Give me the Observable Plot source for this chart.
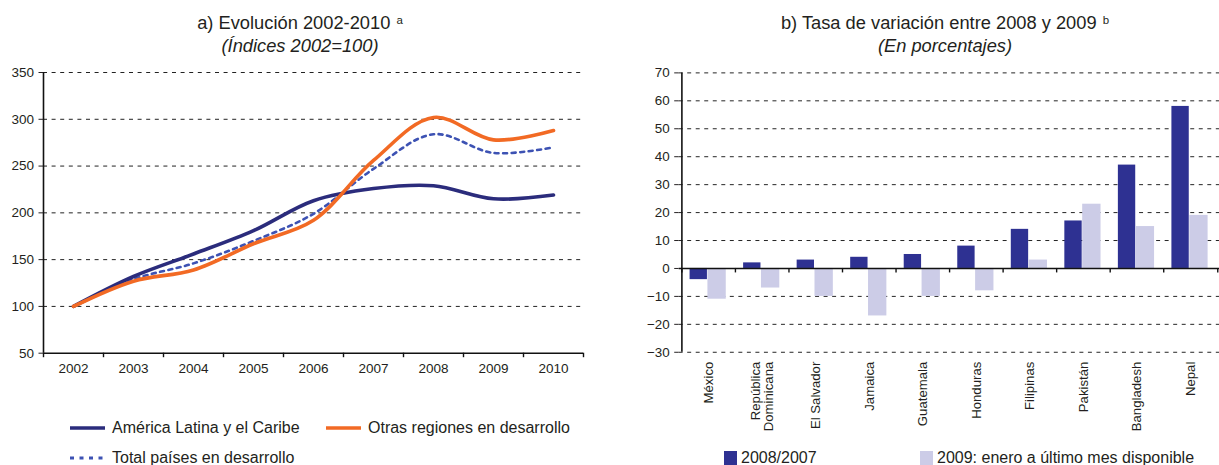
<!DOCTYPE html>
<html>
<head>
<meta charset="utf-8">
<script src="https://cdn.jsdelivr.net/npm/d3@7"></script>
<script src="https://cdn.jsdelivr.net/npm/@observablehq/plot@0.6"></script>
<style>
  body { margin:0; width:1219px; height:465px; overflow:hidden; position:relative; background:#fff;
         font-family:"Liberation Sans", Arial, Helvetica, sans-serif; color:#231f20; }
  .abs { position:absolute; }
  .title { font-size:18.3px; text-align:center; white-space:nowrap; line-height:23px; }
  .title i { display:block; }
  .title sup { font-size:11.5px; vertical-align:top; position:relative; top:-2px; margin-left:1px; }
  .leg { position:absolute; font-size:16px; white-space:nowrap; display:flex; align-items:center; transform:translateY(-50%); }
  .leg .sw { display:inline-block; margin-right:7px; }
</style>
</head>
<body>
<div class="abs title" style="left:100px; width:400px; top:11px;">a) Evolución 2002-2010 <sup>a</sup><i>(Índices 2002=100)</i></div>
<div class="abs title" style="left:745px; width:400px; top:11px;">b) Tasa de variación entre 2008 y 2009 <sup>b</sup><i>(En porcentajes)</i></div>
<div id="chartA" class="abs" style="left:0; top:60px;"></div>
<div id="chartB" class="abs" style="left:640px; top:60px;"></div>
<div id="legends"></div>
<script>
// ---- Data: panel a) ----
const years = ["2002","2003","2004","2005","2006","2007","2008","2009","2010"];
const americaLatina = [100, 132, 156, 181, 213, 226, 229, 215, 219];
const otrasRegiones = [100, 127, 139, 167, 192, 256, 302, 278, 288];
const totalPaises   = [100, 129, 146, 170, 199, 247, 284, 264, 270];
const yTicksA = [50, 100, 150, 200, 250, 300, 350];

// ---- Data: panel b) ----
const paises = ["México","República Dominicana","El Salvador","Jamaica","Guatemala","Honduras","Filipinas","Pakistán","Bangladesh","Nepal"];
const var2008 = [-4, 2, 3, 4, 5, 8, 14, 17, 37, 58];
const var2009 = [-11, -7, -10, -17, -10, -8, 3, 23, 15, 19];
const yTicksB = [-30, -20, -10, 0, 10, 20, 30, 40, 50, 60, 70];

const seriesNames = ["América Latina y el Caribe", "Otras regiones en desarrollo", "Total países en desarrollo"];
const barNames = ["2008/2007", "2009: enero a último mes disponible"];

const navy = "#2b2c7c", orange = "#f26a24", dotBlue = "#3d52b3";
const dark = "#2e3192", light = "#cccce7";
const grid = {stroke:"#222", strokeWidth:1, strokeDasharray:"4,4.6"};
const font = "'Liberation Sans', Arial, Helvetica, sans-serif";

// ---- Chart a ----
const rowsA = years.map((y, i) => ({year:y, al:americaLatina[i], or:otrasRegiones[i], tp:totalPaises[i]}));
const WA = 600, HA = 320, mlA = 43, mrA = 17;
const stepA = (WA - mlA - mrA) / years.length;
const chartA = Plot.plot({
  width: WA, height: HA, marginLeft: mlA, marginRight: mrA, marginTop: 12, marginBottom: 27.3,
  style: {fontFamily: font, fontSize: "13.5px", color: "#231f20", background: "transparent", overflow: "visible"},
  x: {type: "band", domain: years, padding: 0, label: null},
  y: {domain: [50, 350], label: null},
  marks: [
    Plot.ruleY(yTicksA.filter(v => v > 50), {y: d => d, ...grid}),
    Plot.line(rowsA, {x: "year", y: "tp", curve: "catmull-rom", stroke: dotBlue, strokeWidth: 2.6, strokeDasharray: "4,4.5"}),
    Plot.line(rowsA, {x: "year", y: "al", curve: "catmull-rom", stroke: navy, strokeWidth: 3.6}),
    Plot.line(rowsA, {x: "year", y: "or", curve: "catmull-rom", stroke: orange, strokeWidth: 3.6}),
    Plot.ruleY([50], {stroke: "#111", strokeWidth: 1.6}),
    Plot.ruleX([years[0]], {dx: -stepA / 2, stroke: "#111", strokeWidth: 1.6}),
    Plot.ruleX(years, {x: d => d, y1: 50, y2: 50, insetBottom: -4.5, dx: -stepA / 2, stroke: "#111", strokeWidth: 1.4}),
    Plot.ruleX([years[years.length - 1]], {x: d => d, y1: 50, y2: 50, insetBottom: -4.5, dx: stepA / 2, stroke: "#111", strokeWidth: 1.4}),
    Plot.axisY({ticks: yTicksA, tickSize: 4.5, tickPadding: 5, fontSize: 13.5, label: null}),
    Plot.axisX({tickSize: 0, tickPadding: 10.5, fontSize: 13.5, label: null})
  ]
});
document.getElementById("chartA").append(chartA);

// ---- Chart b ----
const rowsB = paises.map((p, i) => ({pais: p, v08: var2008[i], v09: var2009[i]}));
const WB = 584, HB = 390, mlB = 39, mrB = 0;
const stepB = (WB - mlB - mrB) / paises.length;
const chartB = Plot.plot({
  width: WB, height: HB, marginLeft: mlB, marginRight: mrB, marginTop: 12.5, marginBottom: 95.7,
  style: {fontFamily: font, fontSize: "13.5px", color: "#231f20", background: "transparent", overflow: "visible"},
  x: {type: "band", domain: paises, padding: 0, label: null},
  y: {domain: [-30, 70], label: null},
  marks: [
    Plot.ruleY(yTicksB.filter(v => v !== 0), {y: d => d, ...grid}),
    Plot.barY(rowsB, {x: "pais", y: "v08", fill: dark, insetLeft: 8, insetRight: stepB - 26}),
    Plot.barY(rowsB, {x: "pais", y: "v09", fill: light, insetLeft: 26, insetRight: 9.5}),
    Plot.ruleY([0], {stroke: "#111", strokeWidth: 1.6}),
    Plot.ruleX([paises[0]], {dx: -stepB / 2, stroke: "#111", strokeWidth: 1.6}),
    Plot.ruleX(paises, {x: d => d, y1: 0, y2: 0, insetBottom: -4.5, dx: -stepB / 2, stroke: "#111", strokeWidth: 1.4}),
    Plot.ruleX([paises[paises.length - 1]], {x: d => d, y1: 0, y2: 0, insetBottom: -4.5, dx: stepB / 2, stroke: "#111", strokeWidth: 1.4}),
    Plot.axisY({ticks: yTicksB, tickSize: 4.5, tickPadding: 5, fontSize: 13.5, label: null}),
    Plot.axisX({tickSize: 0, tickRotate: -90, tickPadding: 9.5, fontSize: 13.3, label: null,
                tickFormat: d => d.replace("República ", "República\n")})
  ]
});
document.getElementById("chartB").append(chartB);

// ---- Legends ----
const L = document.getElementById("legends");
function lineSwatch(color, dash, w) {
  return `<svg class="sw" width="35" height="6"><line x1="0" x2="35" y1="3" y2="3" stroke="${color}" stroke-width="${w}" ${dash ? `stroke-dasharray="${dash}"` : ""}/></svg>`;
}
function boxSwatch(color) {
  return `<span class="sw" style="width:13px;height:14px;background:${color};margin-right:4px"></span>`;
}
const items = [
  {x: 70, y: 428, html: lineSwatch(navy, null, 3.6) + seriesNames[0]},
  {x: 326, y: 428, html: lineSwatch(orange, null, 3.6) + seriesNames[1]},
  {x: 70, y: 458, html: lineSwatch(dotBlue, "4,5.5", 2.8) + seriesNames[2]},
  {x: 724, y: 458, html: boxSwatch(dark) + barNames[0]},
  {x: 920, y: 458, html: boxSwatch(light) + barNames[1]}
];
for (const it of items) {
  const d = document.createElement("div");
  d.className = "leg";
  d.style.left = it.x + "px";
  d.style.top = it.y + "px";
  d.innerHTML = it.html;
  L.append(d);
}
</script>
</body>
</html>
